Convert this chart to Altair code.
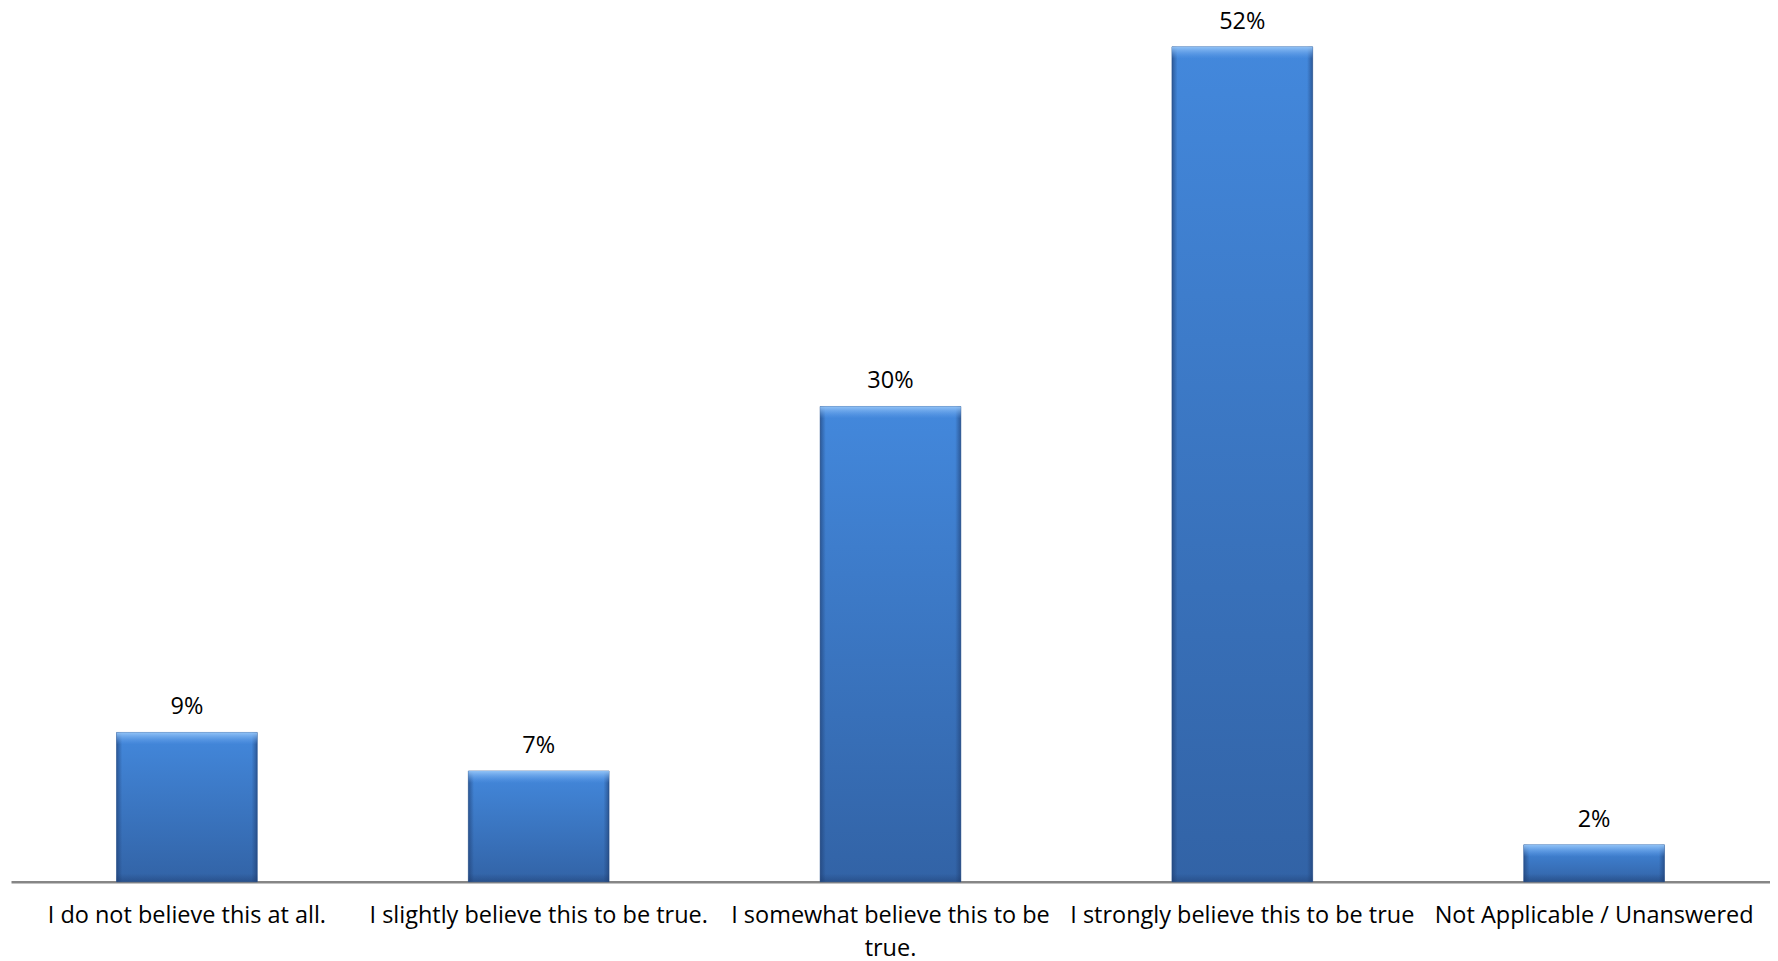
import altair as alt
import pandas as pd

categories = [
    "I do not believe this at all.",
    "I slightly believe this to be true.",
    "I somewhat believe this to be true.",
    "I strongly believe this to be true",
    "Not Applicable / Unanswered",
]
label_lines = [
    ["I do not believe this at all."],
    ["I slightly believe this to be true."],
    ["I somewhat believe this to be", "true."],
    ["I strongly believe this to be true"],
    ["Not Applicable / Unanswered"],
]
values = [9.3, 6.9, 29.6, 52.0, 2.3]
value_labels = ["9%", "7%", "30%", "52%", "2%"]

df = pd.DataFrame({"cat": categories, "val": values, "lab": value_labels})

expr = "datum.label"
for c, lines in zip(categories, label_lines):
    arr = "[" + ",".join("'" + l + "'" for l in lines) + "]"
    expr = f"datum.label == '{c}' ? {arr} : ({expr})"

FONT = "Open Sans"
FS = 23.5
YMAX = 54.4

main_grad = {
    "gradient": "linear", "x1": 0, "y1": 0, "x2": 0, "y2": 1,
    "stops": [
        {"offset": 0, "color": "#4388DC"},
        {"offset": 1, "color": "#3263A6"},
    ],
}
side_grad = {
    "gradient": "linear", "x1": 0, "y1": 0, "x2": 1, "y2": 0,
    "stops": [
        {"offset": 0, "color": "rgba(30,60,110,0.6)"},
        {"offset": 0.04, "color": "rgba(30,60,110,0.0)"},
        {"offset": 0.96, "color": "rgba(30,60,110,0.0)"},
        {"offset": 1, "color": "rgba(30,60,110,0.6)"},
    ],
}
top_grad = {
    "gradient": "linear", "x1": 0, "y1": 0, "x2": 0, "y2": 1,
    "stops": [
        {"offset": 0, "color": "rgba(150,198,248,0.95)"},
        {"offset": 1, "color": "rgba(100,160,235,0.0)"},
    ],
}
bot_grad = {
    "gradient": "linear", "x1": 0, "y1": 0, "x2": 0, "y2": 1,
    "stops": [
        {"offset": 0, "color": "rgba(30,60,110,0.0)"},
        {"offset": 1, "color": "rgba(30,60,110,0.45)"},
    ],
}

x = alt.X(
    "cat:N",
    sort=categories,
    title=None,
    scale=alt.Scale(paddingInner=0.6, paddingOuter=0.3),
    axis=alt.Axis(
        labelAngle=0,
        labelExpr=expr,
        labelFont=FONT,
        labelFontSize=FS,
        labelColor="#000000",
        labelPadding=22,
        labelLimit=400,
        labelLineHeight=33,
        ticks=False,
        grid=False,
        domainColor="#868686",
        domainWidth=2.5,
    ),
)
y = alt.Y("val:Q", scale=alt.Scale(domain=[0, YMAX]), axis=None)

base = alt.Chart(df)

bars = base.mark_bar(fill=main_grad, stroke="#2A5590", strokeWidth=0.8,
                     strokeOpacity=0.7).encode(x=x, y=y)
sides = base.mark_bar(fill=side_grad).encode(x=x, y=y)
tops = base.mark_bar(fill=top_grad, y2Offset=12).encode(x=x, y=y, y2="val:Q")
bots = base.mark_bar(fill=bot_grad, yOffset=-8).encode(
    x=x, y=alt.Y("zero:Q", scale=alt.Scale(domain=[0, YMAX]), axis=None),
    y2="zero:Q"
).transform_calculate(zero="0")

text = base.mark_text(
    baseline="alphabetic", dy=-18, font=FONT, fontSize=FS, color="#000000"
).encode(x=x, y=y, text="lab:N")

chart = (
    alt.layer(bars, sides, tops, bots, text)
    .properties(
        width=1760,
        height=874,
        autosize=alt.AutoSizeParams(type="none"),
        padding={"left": 3, "top": 0, "right": 0, "bottom": 80},
        view=alt.ViewBackground(strokeWidth=0, strokeOpacity=0),
    )
    .configure_view(strokeOpacity=0, strokeWidth=0)
    .configure(background="#ffffff")
)

chart.save("out.html", embed_options={"renderer": "svg", "actions": False})
